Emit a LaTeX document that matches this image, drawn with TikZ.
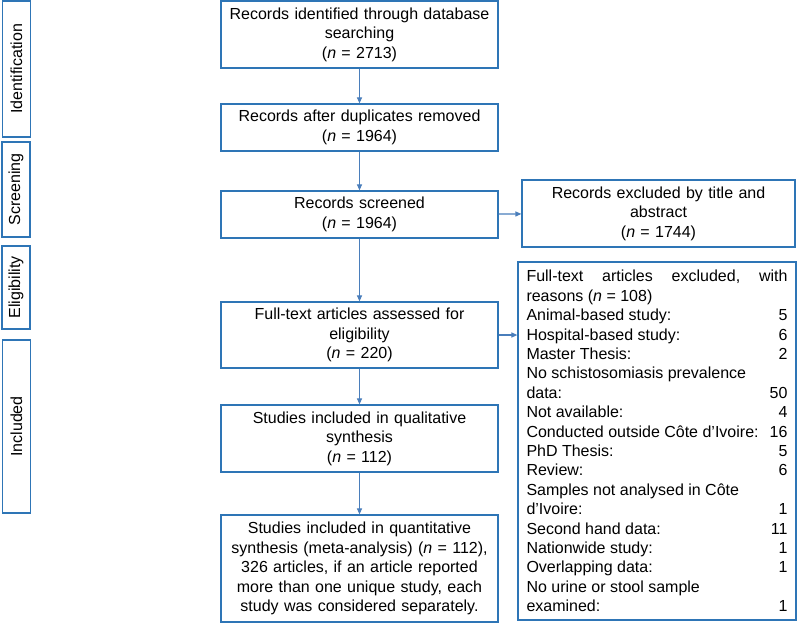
\documentclass[tikz,border=0pt]{standalone}
\usepackage{fontspec}
\setmainfont{Liberation Sans}
\usetikzlibrary{arrows.meta,positioning}
\definecolor{boxblue}{RGB}{46,117,182}
\definecolor{arrowblue}{RGB}{74,126,187}

\begin{document}
\begin{tikzpicture}[x=1pt,y=-1pt,>={Triangle[length=6pt,width=5pt]},
  font=\fontsize{16}{19.5}\selectfont,
  box/.style={draw=boxblue,line width=1.2pt,minimum width=277pt,inner sep=0pt,text width=270pt,align=center},
  side/.style={draw=boxblue,line width=1.2pt,rotate=90,minimum height=28pt,inner sep=0pt},
  arr/.style={->,draw=arrowblue,line width=1.1pt}]
\useasboundingbox (0,0) rectangle (797,624);
% stage labels
\node[side,minimum width=136pt] (ident) at (16.5,69) {Identification};
\node[side,minimum width=95pt] (screen) at (16,189.5) {Screening};
\node[side,minimum width=83pt] (elig) at (16,287.5) {Eligibility};
\node[side,minimum width=173pt] (incl) at (16.5,426.5) {Included};
% main column
\node[box,minimum height=67pt] (found) at (359.5,34.5) {Records identified through database\\ searching\\ (\textit{n} = 2713)};
\node[box,minimum height=47pt] (dedup) at (359.5,127.5) {Records after duplicates removed\\ (\textit{n} = 1964)};
\node[box,minimum height=47pt] (scrn) at (359.5,214.5) {Records screened\\ (\textit{n} = 1964)};
\node[box,minimum height=66pt] (full) at (359.5,335) {Full-text articles assessed for\\ eligibility\\ (\textit{n} = 220)};
\node[box,minimum height=67pt] (qual) at (359.5,438.5) {Studies included in qualitative\\ synthesis\\ (\textit{n} = 112)};
\node[box,minimum height=107pt] (quant) at (359.5,568.5) {Studies included in quantitative\\ synthesis (meta-analysis) (\textit{n} = 112),\\ 326 articles, if an article reported\\ more than one unique study, each\\ study was considered separately.};
% exclusions
\node[box,minimum width=273pt,minimum height=67pt] (excl) at (658.5,213.5) {Records excluded by title and\\ abstract\\ (\textit{n} = 1744)};
\node[draw=boxblue,line width=1.2pt,minimum width=278pt,minimum height=358pt,inner sep=0pt,text width=261pt,align=justify,font=\fontsize{16}{19.4}\selectfont] (why) at (657,441) {%
Full-text\hfill articles\hfill excluded,\hfill with\\
reasons (\textit{n} = 108)\\
Animal-based study:\hfill 5\\
Hospital-based study:\hfill 6\\
Master Thesis:\hfill 2\\
No schistosomiasis prevalence\\
data:\hfill 50\\
Not available:\hfill 4\\
Conducted outside Côte d’Ivoire:\hfill 16\\
PhD Thesis:\hfill 5\\
Review:\hfill 6\\
Samples not analysed in Côte\\
d’Ivoire:\hfill 1\\
Second hand data:\hfill 11\\
Nationwide study:\hfill 1\\
Overlapping data:\hfill 1\\
No urine or stool sample\\
examined:\hfill 1};
% connectors
\draw[arr] (found) -- (dedup);
\draw[arr] (dedup) -- (scrn);
\draw[arr] (scrn) -- (full);
\draw[arr] (full) -- (qual);
\draw[arr] (qual) -- (quant);
\draw[arr] (scrn) -- (excl);
\draw[arr] (full.east) -- (full.east -| why.west);
\end{tikzpicture}
\end{document}
